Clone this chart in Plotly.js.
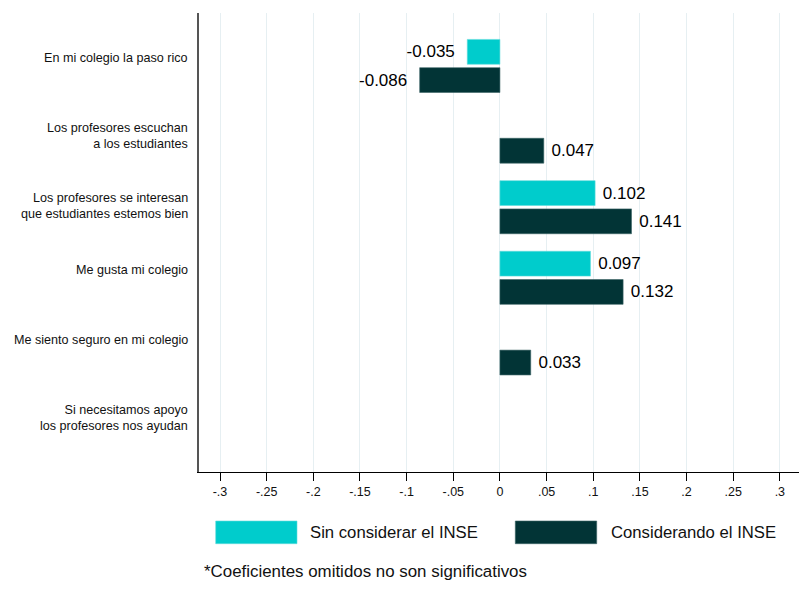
<!DOCTYPE html>
<html>
<head>
<meta charset="utf-8">
<script src="https://cdn.plot.ly/plotly-3.0.1.min.js"></script>
<style>html,body{margin:0;padding:0;background:#fff;}#chart{width:799px;height:592px;}</style>
</head>
<body>
<div id="chart"></div>
<script>
const categories = [
  "En mi colegio la paso rico",
  "Los profesores escuchan<br>a los estudiantes",
  "Los profesores se interesan<br>que estudiantes estemos bien",
  "Me gusta mi colegio",
  "Me siento seguro en mi colegio",
  "Si necesitamos apoyo<br>los profesores nos ayudan"
];
const seriesNames = ["Sin considerar el INSE", "Considerando el INSE"];
const sinINSE = [-0.035, null, 0.102, 0.097, null, null];
const conINSE = [-0.086, 0.047, 0.141, 0.132, 0.033, null];
const tickVals = [-0.3, -0.25, -0.2, -0.15, -0.1, -0.05, 0, 0.05, 0.1, 0.15, 0.2, 0.25, 0.3];
const tickText = ["-.3", "-.25", "-.2", "-.15", "-.1", "-.05", "0", ".05", ".1", ".15", ".2", ".25", ".3"];
const footnote = "*Coeficientes omitidos no son significativos";

const colors = ["#00CCCC", "#023436"];
const W = 799, H = 592;
const M = {l: 199, r: 0, t: 13, b: 120};
const pw = W - M.l - M.r, ph = H - M.t - M.b;
const px = x => (x - M.l) / pw;
const py = y => (H - M.b - y) / ph;

const NB = "\u00a0";
function labels(vals) {
  return vals.map(v => v === null ? "" : (v < 0 ? v.toFixed(3) + NB + NB : NB + v.toFixed(3)));
}
const idx = categories.map((c, i) => i);

const traces = [sinINSE, conINSE].map((vals, k) => ({
  type: "bar",
  orientation: "h",
  name: seriesNames[k],
  x: vals,
  y: idx,
  text: labels(vals),
  textposition: "outside",
  cliponaxis: false,
  textfont: {family: "Liberation Sans, Arial, sans-serif", size: 17, color: "#000"},
  marker: {color: colors[k], line: {color: k === 0 ? "#5fdcdc" : "#3d6466", width: 0.6}},
  hoverinfo: "x+name",
  showlegend: false
}));

const annotations = categories.map((c, i) => ({
  xref: "paper", yref: "y", x: 0, y: i,
  xanchor: "right", yanchor: "middle", xshift: -9,
  yshift: c.indexOf("<br>") >= 0 ? 1 : 8,
  align: "right", showarrow: false, text: c,
  font: {family: "Liberation Sans, Arial, sans-serif", size: 12.6, color: "#111"}
}));

const shapes = [];
const legendX = [[215.7, 297], [515.3, 596.7]];
const legendTextX = [308, 609];
seriesNames.forEach((n, k) => {
  shapes.push({type: "rect", xref: "paper", yref: "paper",
    x0: px(legendX[k][0]), x1: px(legendX[k][1]), y0: py(543.7), y1: py(521),
    fillcolor: colors[k], line: {color: k === 0 ? "#5fdcdc" : "#3d6466", width: 0.6}});
  annotations.push({xref: "paper", yref: "paper", x: px(legendTextX[k]), y: py(532.5),
    xanchor: "left", yanchor: "middle", showarrow: false, text: n,
    font: {family: "Liberation Sans, Arial, sans-serif", size: 16.7, color: "#111"}});
});
annotations.push({xref: "paper", yref: "paper", x: px(201.5), y: py(571),
  xanchor: "left", yanchor: "middle", showarrow: false, text: footnote,
  font: {family: "Liberation Sans, Arial, sans-serif", size: 16.9, color: "#111"}});

const layout = {
  width: W, height: H,
  margin: M,
  paper_bgcolor: "#fff", plot_bgcolor: "#fff",
  barmode: "group", bargap: 0.2, bargroupgap: 0.12,
  font: {family: "Liberation Sans, Arial, sans-serif", color: "#111"},
  xaxis: {
    range: [-0.3225, 0.3205], tickvals: tickVals, ticktext: tickText,
    showgrid: true, gridcolor: "#E6EFF2", gridwidth: 1.2, zeroline: false,
    showline: true, linecolor: "#000", linewidth: 1.3,
    ticks: "outside", ticklen: 8, tickcolor: "#000", tickwidth: 1.2,
    tickfont: {size: 12.5, color: "#111"}, fixedrange: true
  },
  yaxis: {
    range: [5.75, -0.75], showticklabels: false, showgrid: false, zeroline: false,
    showline: true, linecolor: "#555", linewidth: 1.8, ticks: "", fixedrange: true
  },
  shapes: shapes,
  annotations: annotations
};

Plotly.newPlot("chart", traces, layout, {displayModeBar: false, staticPlot: false});
</script>
</body>
</html>
